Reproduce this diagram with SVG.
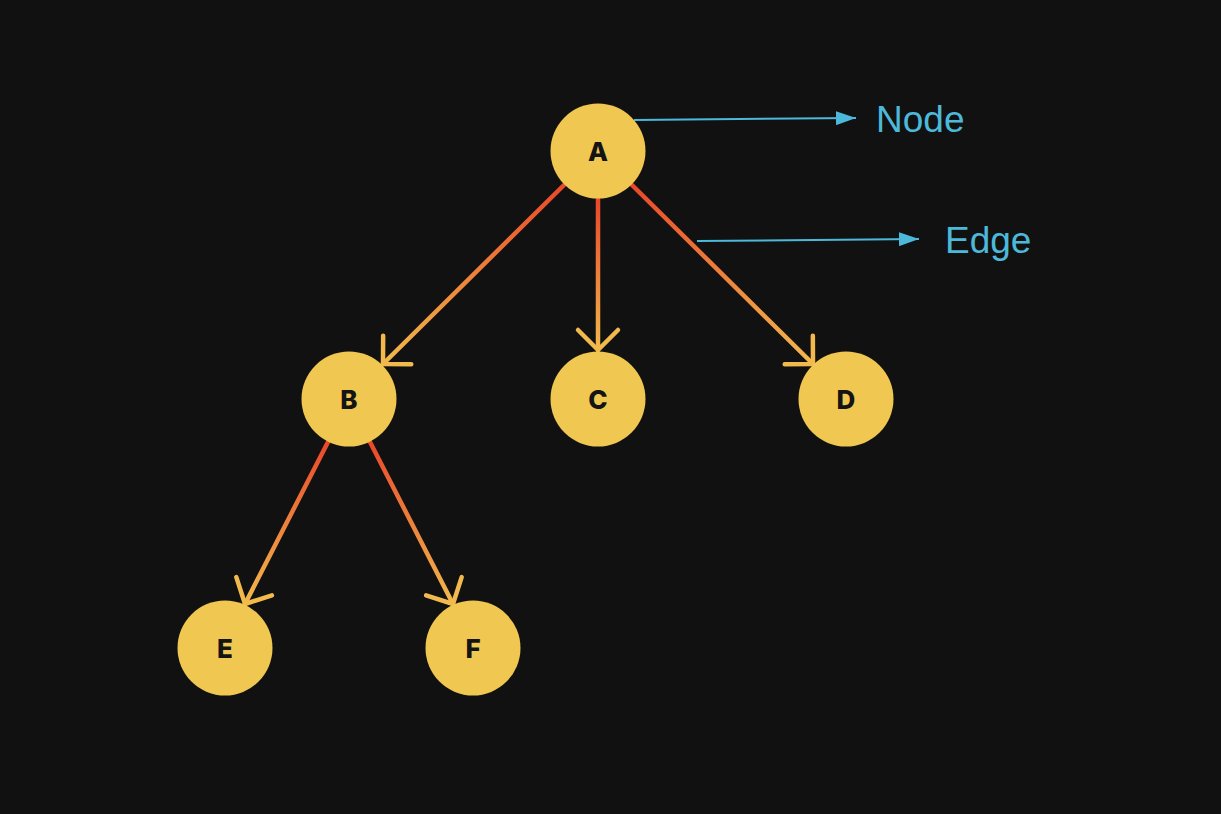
<svg xmlns="http://www.w3.org/2000/svg" width="1221" height="814" viewBox="0 0 1221 814">
<style>
.node{fill:#F0C750}
.lbl{font-family:Inter,Roboto,"Liberation Sans",sans-serif;font-weight:800;font-size:26px;fill:#141414;text-anchor:middle}
.edge{stroke-width:4.5;fill:none;stroke-linecap:round}
.ann{stroke:#4DB9DA;stroke-width:2;fill:none}
.anntxt{font-family:"Liberation Sans",Arial,sans-serif;font-size:37px;fill:#4DB9DA}
</style>
<defs>
<marker id="chev" markerUnits="userSpaceOnUse" orient="auto" markerWidth="40" markerHeight="40" refX="0" refY="0" viewBox="-20 -20 40 40" overflow="visible">
<path d="M-20,-20 L0,0 L-20,20" fill="none" stroke="#F2BA4C" stroke-width="4.5" stroke-linecap="round" stroke-linejoin="round"/>
</marker>
<marker id="tri" markerUnits="userSpaceOnUse" orient="auto" markerWidth="22" markerHeight="14" refX="20" refY="7" viewBox="0 0 22 14">
<path d="M0,0 L20,7 L0,14 Z" fill="#4DB9DA"/>
</marker>
<linearGradient id="gAB" gradientUnits="userSpaceOnUse" x1="564" y1="185" x2="383" y2="365"><stop offset="0" stop-color="#E9482A"/><stop offset="1" stop-color="#F2BA4C"/></linearGradient>
<linearGradient id="gAC" gradientUnits="userSpaceOnUse" x1="598" y1="200" x2="598" y2="351"><stop offset="0" stop-color="#E9482A"/><stop offset="1" stop-color="#F2BA4C"/></linearGradient>
<linearGradient id="gAD" gradientUnits="userSpaceOnUse" x1="632" y1="185" x2="812" y2="365"><stop offset="0" stop-color="#E9482A"/><stop offset="1" stop-color="#F2BA4C"/></linearGradient>
<linearGradient id="gBE" gradientUnits="userSpaceOnUse" x1="328" y1="442" x2="246" y2="605"><stop offset="0" stop-color="#E9482A"/><stop offset="1" stop-color="#F2BA4C"/></linearGradient>
<linearGradient id="gBF" gradientUnits="userSpaceOnUse" x1="370" y1="442" x2="452" y2="605"><stop offset="0" stop-color="#E9482A"/><stop offset="1" stop-color="#F2BA4C"/></linearGradient>
</defs>
<rect width="1221" height="814" fill="#111111"/>
<g id="connectors">
<line class="edge" x1="564" y1="185" x2="383" y2="364" stroke="url(#gAB)" marker-end="url(#chev)"/>
<line class="edge" x1="598" y1="198" x2="598" y2="350" stroke="url(#gAC)" marker-end="url(#chev)"/>
<line class="edge" x1="632" y1="185" x2="813" y2="364" stroke="url(#gAD)" marker-end="url(#chev)"/>
<line class="edge" x1="328" y1="442" x2="245" y2="604" stroke="url(#gBE)" marker-end="url(#chev)"/>
<line class="edge" x1="370" y1="442" x2="453" y2="604" stroke="url(#gBF)" marker-end="url(#chev)"/>
<line class="ann" x1="634" y1="120" x2="856" y2="118" marker-end="url(#tri)"/>
<line class="ann" x1="697" y1="241" x2="919" y2="239" marker-end="url(#tri)"/>
</g>
<g id="node-A"><circle class="node" cx="598" cy="151" r="47.5"/><text class="lbl" x="598" y="161">A</text></g>
<g id="node-B"><circle class="node" cx="349" cy="399" r="47.5"/><text class="lbl" x="349" y="409">B</text></g>
<g id="node-C"><circle class="node" cx="598" cy="399" r="47.5"/><text class="lbl" x="598" y="409">C</text></g>
<g id="node-D"><circle class="node" cx="846" cy="399" r="47.5"/><text class="lbl" x="846" y="409">D</text></g>
<g id="node-E"><circle class="node" cx="225" cy="648" r="47.5"/><text class="lbl" x="225" y="658">E</text></g>
<g id="node-F"><circle class="node" cx="473" cy="648" r="47.5"/><text class="lbl" x="473" y="658">F</text></g>
<g id="label-node"><text class="anntxt" x="876" y="132">Node</text></g>
<g id="label-edge"><text class="anntxt" x="945" y="253">Edge</text></g>
</svg>
